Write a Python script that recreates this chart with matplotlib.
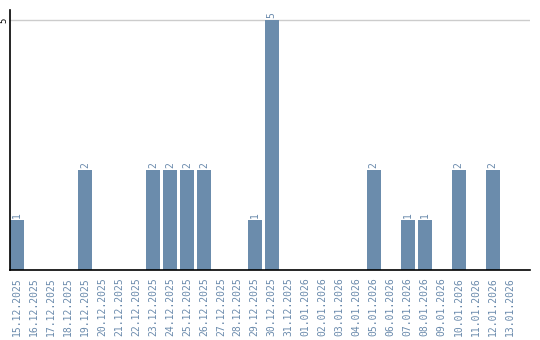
import matplotlib
matplotlib.use('Agg')
import matplotlib.pyplot as plt

dates = ['15.12.2025', '16.12.2025', '17.12.2025', '18.12.2025', '19.12.2025',
         '20.12.2025', '21.12.2025', '22.12.2025', '23.12.2025', '24.12.2025',
         '25.12.2025', '26.12.2025', '27.12.2025', '28.12.2025', '29.12.2025',
         '30.12.2025', '31.12.2025', '01.01.2026', '02.01.2026', '03.01.2026',
         '04.01.2026', '05.01.2026', '06.01.2026', '07.01.2026', '08.01.2026',
         '09.01.2026', '10.01.2026', '11.01.2026', '12.01.2026', '13.01.2026']
counts = [1, 0, 0, 0, 2, 0, 0, 0, 2, 2, 2, 2, 0, 0, 1, 5, 0, 0, 0, 0,
          0, 2, 0, 1, 1, 0, 2, 0, 2, 0]

bar_color = '#6b8cac'
text_color = '#6a8aac'
font = 'DejaVu Sans Mono'

fig = plt.figure(figsize=(5.4, 3.4), dpi=100)
ax = fig.add_axes([10/540, 70/340, 520/540, 260/340])

x = list(range(len(dates)))
ax.bar(x, counts, width=0.82, color=bar_color, zorder=2)
for i, c in enumerate(counts):
    if c > 0:
        ax.text(i, c + 0.04, str(c), rotation=90, ha='center', va='bottom',
                fontsize=7, color=text_color, family=font)

ax.axhline(5, color='#cccccc', lw=1, zorder=1)
ax.set_xlim(-0.41, 30.2)
ax.set_ylim(0, 5.2)
ax.set_yticks([5])
ax.set_yticklabels(['5'], rotation=90, va='center', fontsize=6.5,
                   color='black', family=font)
ax.set_xticks(x)
ax.set_xticklabels(dates, rotation=90, fontsize=7, color=text_color, family=font)
ax.tick_params(axis='both', length=0)
ax.tick_params(axis='x', pad=5)
ax.tick_params(axis='y', pad=1)
for s in ['top', 'right']:
    ax.spines[s].set_visible(False)
ax.spines['left'].set_linewidth(1.2)
ax.spines['bottom'].set_linewidth(1.2)

fig.savefig('out.png', dpi=100)
